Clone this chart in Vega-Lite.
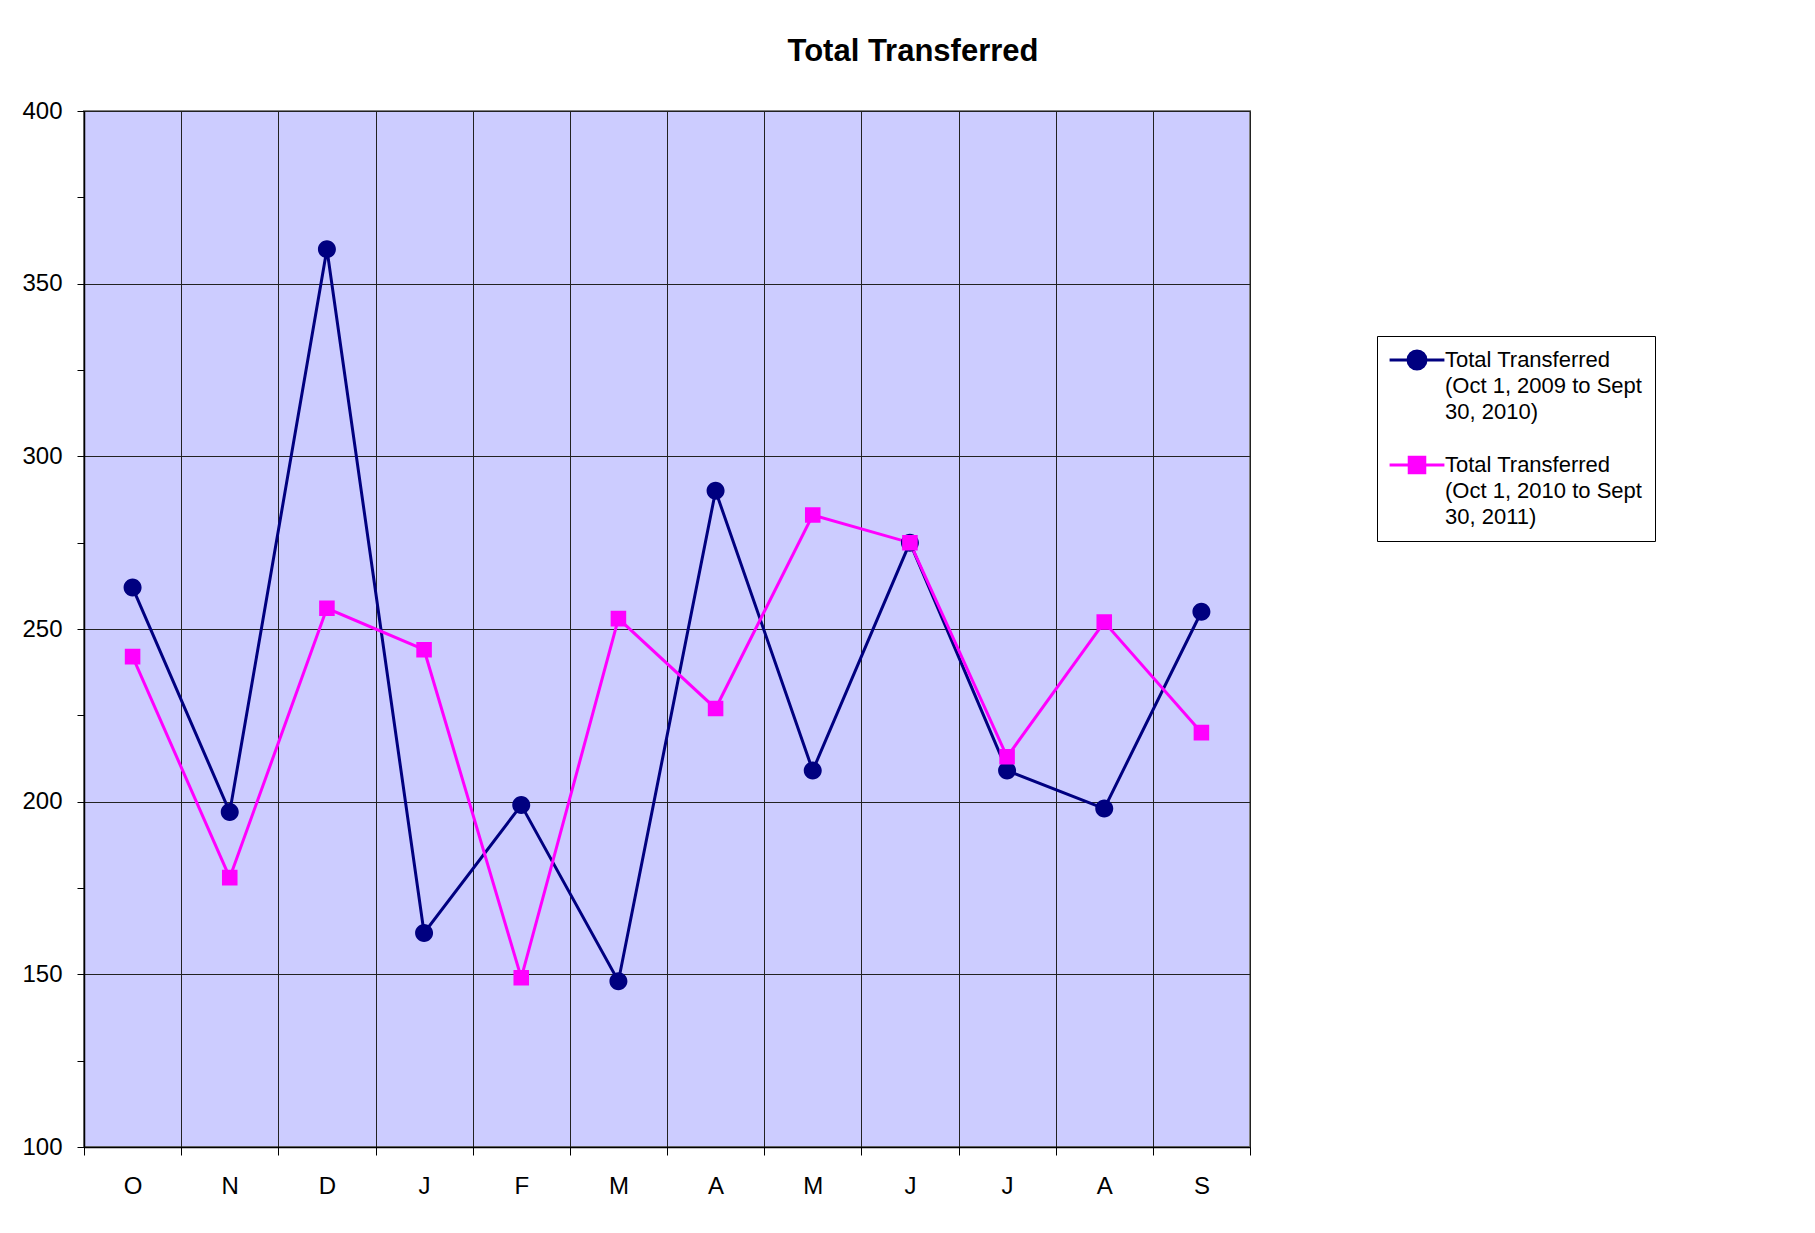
{
  "$schema": "https://vega.github.io/schema/vega-lite/v6.json",
  "width": 1166,
  "height": 1036,
  "autosize": {"type": "none"},
  "padding": {"left": 84, "top": 111, "right": 565, "bottom": 86},
  "background": "white",
  "config": {
    "view": {"fill": "#CCCCFF", "stroke": "#808080", "strokeWidth": 2},
    "font": "Liberation Sans"
  },
  "title": {
    "text": "Total Transferred",
    "font": "Liberation Sans",
    "fontSize": 31,
    "fontWeight": "bold",
    "color": "black",
    "anchor": "middle",
    "frame": "group",
    "dx": 246,
    "baseline": "alphabetic",
    "offset": 7
  },
  "data": {
    "values": [
      {"month": "Oct", "series": "Total Transferred (Oct 1, 2009 to Sept 30, 2010)", "value": 262},
      {"month": "Nov", "series": "Total Transferred (Oct 1, 2009 to Sept 30, 2010)", "value": 197},
      {"month": "Dec", "series": "Total Transferred (Oct 1, 2009 to Sept 30, 2010)", "value": 360},
      {"month": "Jan", "series": "Total Transferred (Oct 1, 2009 to Sept 30, 2010)", "value": 162},
      {"month": "Feb", "series": "Total Transferred (Oct 1, 2009 to Sept 30, 2010)", "value": 199},
      {"month": "Mar", "series": "Total Transferred (Oct 1, 2009 to Sept 30, 2010)", "value": 148},
      {"month": "Apr", "series": "Total Transferred (Oct 1, 2009 to Sept 30, 2010)", "value": 290},
      {"month": "May", "series": "Total Transferred (Oct 1, 2009 to Sept 30, 2010)", "value": 209},
      {"month": "Jun", "series": "Total Transferred (Oct 1, 2009 to Sept 30, 2010)", "value": 275},
      {"month": "Jul", "series": "Total Transferred (Oct 1, 2009 to Sept 30, 2010)", "value": 209},
      {"month": "Aug", "series": "Total Transferred (Oct 1, 2009 to Sept 30, 2010)", "value": 198},
      {"month": "Sep", "series": "Total Transferred (Oct 1, 2009 to Sept 30, 2010)", "value": 255},
      {"month": "Oct", "series": "Total Transferred (Oct 1, 2010 to Sept 30, 2011)", "value": 242},
      {"month": "Nov", "series": "Total Transferred (Oct 1, 2010 to Sept 30, 2011)", "value": 178},
      {"month": "Dec", "series": "Total Transferred (Oct 1, 2010 to Sept 30, 2011)", "value": 256},
      {"month": "Jan", "series": "Total Transferred (Oct 1, 2010 to Sept 30, 2011)", "value": 244},
      {"month": "Feb", "series": "Total Transferred (Oct 1, 2010 to Sept 30, 2011)", "value": 149},
      {"month": "Mar", "series": "Total Transferred (Oct 1, 2010 to Sept 30, 2011)", "value": 253},
      {"month": "Apr", "series": "Total Transferred (Oct 1, 2010 to Sept 30, 2011)", "value": 227},
      {"month": "May", "series": "Total Transferred (Oct 1, 2010 to Sept 30, 2011)", "value": 283},
      {"month": "Jun", "series": "Total Transferred (Oct 1, 2010 to Sept 30, 2011)", "value": 275},
      {"month": "Jul", "series": "Total Transferred (Oct 1, 2010 to Sept 30, 2011)", "value": 213},
      {"month": "Aug", "series": "Total Transferred (Oct 1, 2010 to Sept 30, 2011)", "value": 252},
      {"month": "Sep", "series": "Total Transferred (Oct 1, 2010 to Sept 30, 2011)", "value": 220}
    ]
  },
  "encoding": {
    "x": {
      "field": "month",
      "type": "nominal",
      "sort": ["Oct", "Nov", "Dec", "Jan", "Feb", "Mar", "Apr", "May", "Jun", "Jul", "Aug", "Sep"],
      "scale": {"paddingInner": 0, "paddingOuter": 0},
      "axis": {
        "title": null,
        "labelExpr": "substring(datum.label, 0, 1)",
        "labelAngle": 0,
        "labelFont": "Liberation Sans",
        "labelFontSize": 24,
        "labelColor": "black",
        "labelBaseline": "middle",
        "labelPadding": 31,
        "tickBand": "extent",
        "tickSize": 8,
        "tickColor": "black",
        "tickWidth": 1,
        "domainColor": "black",
        "domainWidth": 1.5,
        "grid": true,
        "gridColor": "#222222",
        "gridWidth": 1
      }
    },
    "y": {
      "field": "value",
      "type": "quantitative",
      "scale": {"domain": [100, 400], "nice": false, "zero": false},
      "axis": {
        "title": null,
        "values": [100, 125, 150, 175, 200, 225, 250, 275, 300, 325, 350, 375, 400],
        "labelExpr": "datum.value % 50 == 0 ? datum.label : ''",
        "labelFont": "Liberation Sans",
        "labelFontSize": 24,
        "labelColor": "black",
        "labelPadding": 15,
        "tickSize": 7,
        "tickColor": "black",
        "tickWidth": 1,
        "domainColor": "black",
        "domainWidth": 1.5,
        "grid": true,
        "gridColor": "#222222",
        "gridWidth": 1,
        "gridOpacity": {"condition": {"test": "datum.value % 50 == 0", "value": 1}, "value": 0}
      }
    },
    "color": {
      "field": "series",
      "type": "nominal",
      "scale": {
        "domain": ["Total Transferred (Oct 1, 2009 to Sept 30, 2010)", "Total Transferred (Oct 1, 2010 to Sept 30, 2011)"],
        "range": ["#000080", "#FF00FF"]
      },
      "legend": {
        "orient": "none",
        "legendX": 1293,
        "legendY": 225,
        "title": null,
        "strokeColor": "black",
        "fillColor": "white",
        "padding": 13,
        "labelFont": "Liberation Sans",
        "labelFontSize": 22,
        "labelColor": "black",
        "labelLimit": 500,
        "labelOffset": 17,
        "labelExpr": "split(replace(replace(datum.label, ' (', '|('), 'Sept ', 'Sept|'), '|')",
        "symbolSize": 268,
        "symbolOffset": 16,
        "symbolStrokeWidth": 3,
        "rowPadding": 28,
        "encode": {
          "labels": {
            "update": {
              "lineHeight": {"signal": "26"}
            }
          }
        }
      }
    }
  },
  "layer": [
    {"mark": {"type": "line", "strokeWidth": 3}},
    {
      "mark": {"type": "point", "filled": true, "opacity": 1, "size": 268},
      "encoding": {
        "shape": {
          "field": "series",
          "type": "nominal",
          "scale": {
            "domain": ["Total Transferred (Oct 1, 2009 to Sept 30, 2010)", "Total Transferred (Oct 1, 2010 to Sept 30, 2011)"],
            "range": [
              "M-3.35,0L3.35,0M1.1,0A1.1,1.1,0,1,1,-1.1,0A1.1,1.1,0,1,1,1.1,0Z",
              "M-3.35,0L3.35,0M-0.95,-0.95L0.95,-0.95L0.95,0.95L-0.95,0.95Z"
            ]
          },
          "legend": null
        }
      }
    }
  ]
}
